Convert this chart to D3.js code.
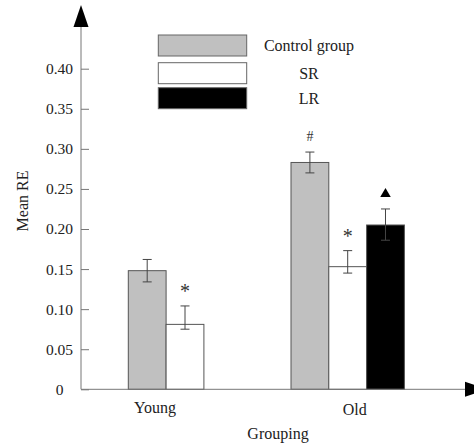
<!DOCTYPE html>
<html>
<head>
<meta charset="utf-8">
<script src="https://cdn.jsdelivr.net/npm/d3@7"></script>
<style>
  body { margin: 0; background: #fff; }
  svg text { font-family: "Liberation Serif", "DejaVu Serif", serif !important; }
</style>
</head>
<body>
<div id="chart"></div>
<script>
// Data
const groups = ["Young", "Old"]
const series = ["Control group", "SR", "LR"]
const meanControl = [0.148, 0.283]
const meanSR = [0.081, 0.153]
const meanLR = [null, 0.205]
const upControl = [0.162, 0.296]
const upSR = [0.104, 0.173]
const upLR = [null, 0.225]
const lowControl = [0.134, 0.270]
const lowSR = [0.075, 0.145]
const lowLR = [null, 0.186]
const markControl = ["", "#"]
const markSR = ["*", "*"]
const markLR = ["", "triangle"]
const yTicks = [0, 0.05, 0.10, 0.15, 0.20, 0.25, 0.30, 0.35, 0.40]

const width = 474
const height = 443
const fills = ["#c0c0c0", "#ffffff", "#000000"]
const barStroke = "#555"
const axisColor = "#777"
const serif = "'Liberation Serif', 'DejaVu Serif', serif"

const svg = d3.select("#chart").append("svg")
  .attr("width", width)
  .attr("height", height)
  .style("font-family", serif)

const axisX = 81
const zeroY = 389.3

const y = d3.scaleLinear().domain([0, 0.4]).range([zeroY, 68.7])

const x0 = d3.scaleBand().domain(groups)
  .range([128.3, 404.4]).paddingInner(0.303).paddingOuter(0)
const x1 = d3.scaleBand().domain(series)
  .range([0, x0.bandwidth()])

// build rows
const means = [meanControl, meanSR, meanLR]
const ups = [upControl, upSR, upLR]
const lows = [lowControl, lowSR, lowLR]
const marks = [markControl, markSR, markLR]
const rows = []
groups.forEach((g, gi) => {
  series.forEach((s, si) => {
    if (means[si][gi] == null) return
    rows.push({group: g, series: s, si: si, v: means[si][gi],
      up: ups[si][gi], low: lows[si][gi], mark: marks[si][gi]})
  })
})

// bars
svg.append("g")
  .selectAll("rect")
  .data(rows)
  .enter()
  .append("rect")
  .attr("x", d => x0(d.group) + x1(d.series))
  .attr("y", d => y(d.v))
  .attr("width", x1.bandwidth())
  .attr("height", d => y(0) - y(d.v))
  .attr("fill", d => fills[d.si])
  .attr("stroke", barStroke)
  .attr("stroke-width", 1)

// error bars
const eb = svg.append("g")
  .attr("stroke", "#444")
  .attr("stroke-width", 1)
rows.forEach(d => {
  const cx = x0(d.group) + x1(d.series) + x1.bandwidth() / 2
  eb.append("line").attr("x1", cx).attr("x2", cx).attr("y1", y(d.up)).attr("y2", y(d.low))
  eb.append("line").attr("x1", cx - 4.5).attr("x2", cx + 4.5).attr("y1", y(d.up)).attr("y2", y(d.up))
  eb.append("line").attr("x1", cx - 4.5).attr("x2", cx + 4.5).attr("y1", y(d.low)).attr("y2", y(d.low))
})

// significance marks
rows.filter(d => d.mark).forEach(d => {
  const cx = x0(d.group) + x1(d.series) + x1.bandwidth() / 2
  const cy = y(d.up) - 16
  if (d.mark == "triangle") {
    svg.append("path")
      .attr("d", d3.symbol(d3.symbolTriangle, 48)())
      .attr("transform", "translate(" + cx + "," + (cy + 1) + ")")
      .attr("fill", "#000")
  } else {
    svg.append("text")
      .attr("x", cx)
      .attr("y", d.mark == "*" ? cy + 8 : cy + 5)
      .attr("text-anchor", "middle")
      .attr("font-size", d.mark == "*" ? 20 : 14)
      .attr("fill", "#333")
      .text(d.mark)
  }
})

// y axis
const yAxis = svg.append("g")
  .attr("transform", "translate(" + axisX + ",0)")
  .call(d3.axisLeft(y).tickValues(yTicks)
    .tickSizeInner(-8).tickSizeOuter(0).tickPadding(0)
    .tickFormat(d => d == 0 ? "0" : d3.format(".2f")(d)))
  .attr("font-family", serif)
yAxis.select(".domain").remove()
yAxis.selectAll("line").attr("stroke", axisColor)
yAxis.selectAll("text")
  .attr("x", -21.5)
  .attr("text-anchor", "middle")
  .attr("font-size", 15.5)
  .attr("fill", "#222")

svg.append("line")
  .attr("x1", axisX).attr("x2", axisX)
  .attr("y1", zeroY).attr("y2", 26)
  .attr("stroke", axisColor)
svg.append("path")
  .attr("d", "M" + (axisX - 7.5) + ",27L" + (axisX + 7.5) + ",27L" + axisX + ",5Z")
  .attr("fill", "#000")

// x axis
svg.append("line")
  .attr("x1", axisX).attr("x2", 466)
  .attr("y1", zeroY).attr("y2", zeroY)
  .attr("stroke", axisColor)
svg.append("path")
  .attr("d", "M465," + (zeroY - 7.5) + "L465," + (zeroY + 7.5) + "L487," + zeroY + "Z")
  .attr("fill", "#000")

// group labels
const labelShift = [-11, 7]
const labelDrop = [0, 2]
svg.append("g")
  .selectAll("text")
  .data(groups)
  .enter()
  .append("text")
  .attr("x", (d, i) => x0(d) + (i == 0 ? x1.bandwidth() : 1.5 * x1.bandwidth()) + labelShift[i])
  .attr("y", (d, i) => 413 + labelDrop[i])
  .attr("text-anchor", "middle")
  .attr("font-size", 16)
  .attr("fill", "#222")
  .text(d => d)

// axis titles
svg.append("text")
  .attr("x", 278)
  .attr("y", 439)
  .attr("text-anchor", "middle")
  .attr("font-size", 16)
  .attr("fill", "#222")
  .text("Grouping")

svg.append("text")
  .attr("transform", "translate(28,201) rotate(-90)")
  .attr("text-anchor", "middle")
  .attr("font-size", 16)
  .attr("fill", "#222")
  .text("Mean RE")

// legend
const legendY = [35, 62.7, 87.7]
const legend = svg.append("g")
series.forEach((s, i) => {
  legend.append("rect")
    .attr("x", 158.3)
    .attr("y", legendY[i])
    .attr("width", 88.4)
    .attr("height", 21)
    .attr("fill", fills[i])
    .attr("stroke", "#666")
  legend.append("text")
    .attr("x", 309)
    .attr("y", legendY[i] + 16)
    .attr("text-anchor", "middle")
    .attr("font-size", 16)
    .attr("fill", "#222")
    .text(s)
})
</script>
</body>
</html>
